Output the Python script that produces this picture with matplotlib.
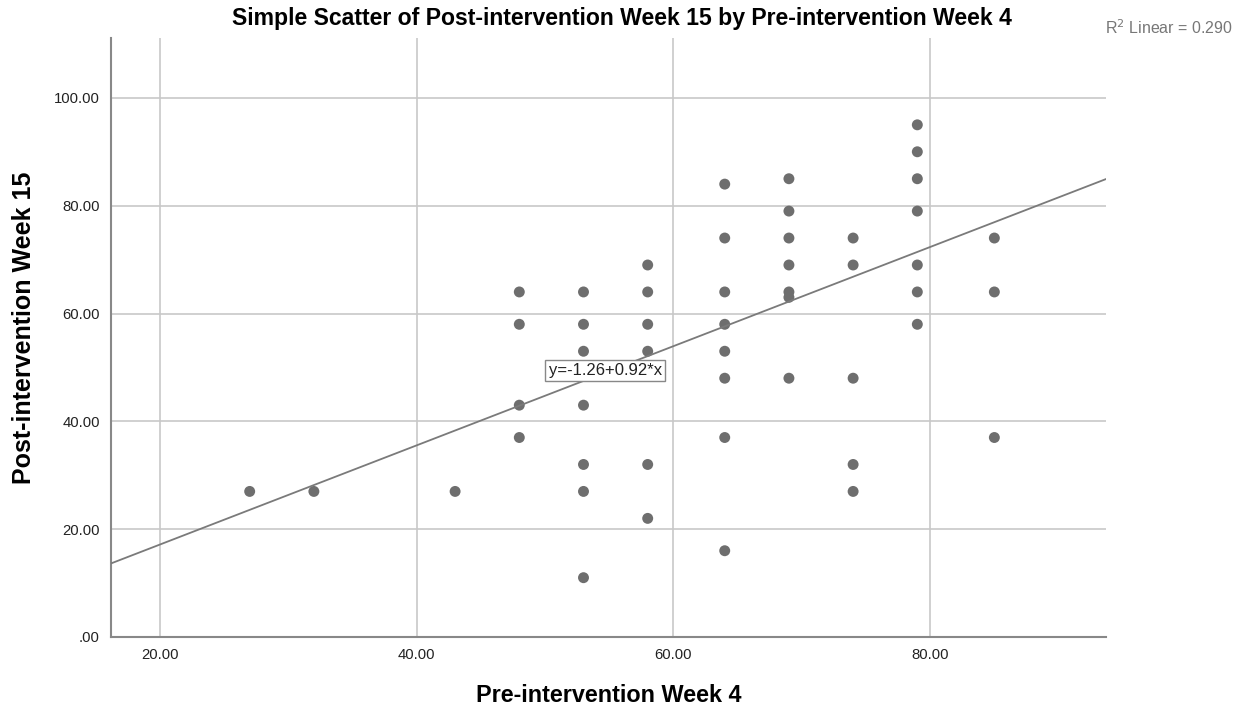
import matplotlib.pyplot as plt
import numpy as np

plt.rcParams['font.family'] = ['Liberation Sans', 'DejaVu Sans']

# scores (pre-intervention week 4, post-intervention week 15)
pre_week4 = [27, 32, 43,
             48, 48, 48, 48,
             53, 53, 53, 53, 53, 53, 53,
             58, 58, 58, 58, 58, 58,
             64, 64, 64, 64, 64, 64, 64, 64,
             69, 69, 69, 69, 69, 69, 69,
             74, 74, 74, 74, 74,
             79, 79, 79, 79, 79, 79, 79,
             85, 85, 85]
post_week15 = [27, 27, 27,
               64, 58, 43, 37,
               64, 58, 53, 43, 32, 27, 11,
               69, 64, 58, 53, 32, 22,
               84, 74, 64, 58, 53, 48, 37, 16,
               85, 79, 74, 69, 64, 63, 48,
               74, 69, 48, 32, 27,
               95, 90, 85, 79, 69, 64, 58,
               74, 64, 37]

intercept = -1.26
slope = 0.92
r_squared = 0.290

x_ticks = [20, 40, 60, 80]
y_ticks = [0, 20, 40, 60, 80, 100]

fig = plt.figure(figsize=(12.39, 7.08), dpi=100)
ax = fig.add_axes([0.0896, 0.1003, 0.8031, 0.846])

xmin, xmax = 16.2, 93.7
ymin, ymax = 0, 111.1
ax.set_xlim(xmin, xmax)
ax.set_ylim(ymin, ymax)

ax.set_xticks(x_ticks)
ax.set_yticks(y_ticks)
ax.set_xticklabels([f"{v:.2f}" for v in x_ticks], fontsize=10.7, color='#222222')
ax.set_yticklabels([".00" if v == 0 else f"{v:.2f}" for v in y_ticks], fontsize=10.7, color='#222222')
ax.tick_params(length=0, pad=8)

ax.grid(True, color='#c8c8c8', linewidth=1.2)
ax.set_axisbelow(True)
for side in ['top', 'right']:
    ax.spines[side].set_visible(False)
for side in ['left', 'bottom']:
    ax.spines[side].set_color('#888888')
    ax.spines[side].set_linewidth(1.5)

ax.scatter(pre_week4, post_week15, s=62, color='#6e6e6e', edgecolors='none', zorder=3)

xs = np.array([xmin, xmax])
ax.plot(xs, intercept + slope * xs, color='#7a7a7a', linewidth=1.3, zorder=4)

ax.text(54.7, 49.4, f"y={intercept}+{slope}*x", fontsize=12, ha='center', va='center',
        color='#222222', zorder=5,
        bbox=dict(boxstyle='square,pad=0.2', facecolor='white', edgecolor='#888888', linewidth=1))

fig.text(0.502, 1 - 19 / 708,
         "Simple Scatter of Post-intervention Week 15 by Pre-intervention Week 4",
         fontsize=16.6, fontweight='bold', ha='center', va='center')

ax.set_xlabel("Pre-intervention Week 4", fontsize=16.8, fontweight='bold')
ax.set_ylabel("Post-intervention Week 15", fontsize=18, fontweight='bold')
ax.xaxis.set_label_coords(0.5, -0.098)
ax.xaxis.label.set_va('center')
ax.yaxis.set_label_coords(-0.087, 0.516)
ax.yaxis.label.set_va('center')

fig.text(0.995, 1 - 28 / 708, f"R$^2$ Linear = {r_squared:.3f}", fontsize=11.5, color='#777777',
         ha='right', va='center')

fig.savefig("out.png", dpi=100)
